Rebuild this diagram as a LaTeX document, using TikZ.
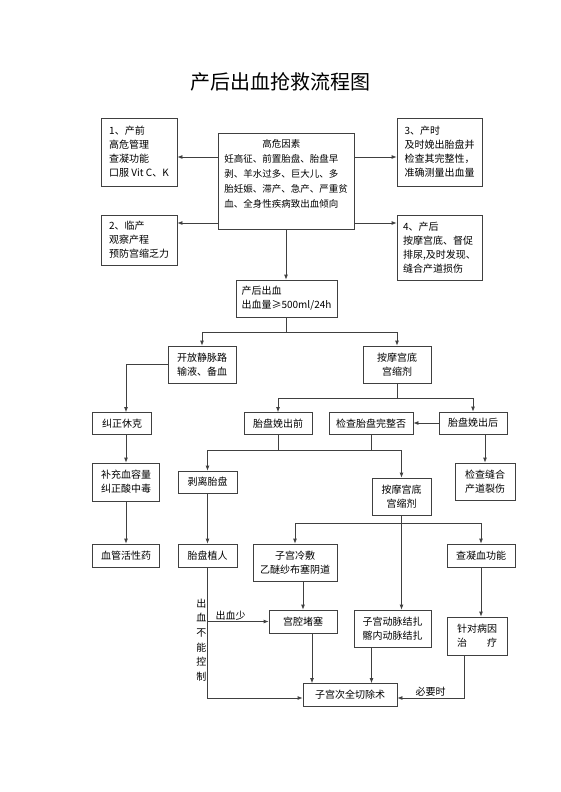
\documentclass[tikz,border=0pt]{standalone}
\usepackage{fontspec}
\setmainfont{Noto Sans CJK SC}
\usepackage{tikz}
\usetikzlibrary{
    positioning,
    calc,
    arrows.meta
}
\tikzset{
  basic/.style = {
      draw=black!75,
      line width=0.8pt,
      rectangle,
      inner sep=2pt,
      font=\fontsize{10}{14}\selectfont
  },
  box/.style = {
      basic,
      align=center
  },
  lbox/.style = {
      basic,
      align=left
  },
  title/.style = {
      font=\fontsize{20}{24}\selectfont
  },
  note/.style = {
      font=\fontsize{10}{13}\selectfont,
      inner sep=1pt
  },
  line/.style = {
      draw=black!75,
      line width=0.8pt
  },
  edge/.style = {
      line,
      -{Latex[length=5pt,width=4pt]}
  }
}
\begin{document}
\begin{tikzpicture}[x=1pt,y=-1pt]
    \useasboundingbox (0,0) rectangle (560,792);
    \node[title] (ttl) at (280,82) {产后出血抢救流程图};
    % Prevention
    \node[lbox, minimum width=76pt, minimum height=68pt] (pre) at (139,152) {1、产前\\高危管理\\查凝功能\\口服 Vit C、K};
    \node[lbox, font=\fontsize{9.5}{15}\selectfont, minimum width=136pt, minimum height=96pt] (risk) at (286,181) {\makebox[114pt]{高危因素}\\妊高征、前置胎盘、胎盘早\\剥、羊水过多、巨大儿、多\\胎妊娠、滞产、急产、严重贫\\血、全身性疾病致出血倾向\\\mbox{}};
    \node[lbox, minimum width=85pt, minimum height=68pt] (intra) at (439.5,152) {3、产时\\及时娩出胎盘并\\检查其完整性，\\准确测量出血量};
    \node[lbox, minimum width=76pt, minimum height=50pt] (labor) at (139,240) {2、临产\\观察产程\\预防宫缩乏力};
    \node[lbox, minimum width=85pt, minimum height=65pt] (post) at (439.5,247.5) {4、产后\\按摩宫底、督促\\排尿,及时发现、\\缝合产道损伤};
    \node[lbox, minimum width=101pt, minimum height=37pt] (pph) at (286.5,298.5) {产后出血\\出血量≥500ml/24h};
    % Treatment
    \node[box, minimum width=68pt, minimum height=37pt] (iv) at (202,364.5) {开放静脉路\\输液、备血};
    \node[box, minimum width=68pt, minimum height=37pt] (mass1) at (397,364.5) {按摩宫底\\宫缩剂};
    \node[box, minimum width=59pt, minimum height=22pt] (shock) at (122,423.5) {纠正休克};
    \node[box, minimum width=68pt, minimum height=22pt] (before) at (278,423.5) {胎盘娩出前};
    \node[box, minimum width=84pt, minimum height=22pt] (check) at (371,423.5) {检查胎盘完整否};
    \node[box, minimum width=68pt, minimum height=22pt] (after) at (473,423) {胎盘娩出后};
    \node[box, minimum width=67pt, minimum height=38pt] (blood) at (126,482) {补充血容量\\纠正酸中毒};
    \node[box, minimum width=59pt, minimum height=22pt] (peel) at (207.5,482) {剥离胎盘};
    \node[box, minimum width=59pt, minimum height=37pt] (mass2) at (401.5,496.5) {按摩宫底\\宫缩剂};
    \node[box, minimum width=60pt, minimum height=37pt] (suture) at (485,481.5) {检查缝合\\产道裂伤};
    \node[box, minimum width=67pt, minimum height=23pt] (vaso) at (126,555.5) {血管活性药};
    \node[box, minimum width=59pt, minimum height=23pt] (plant) at (207.5,555.5) {胎盘植人};
    \node[box, minimum width=84pt, minimum height=37pt] (cold) at (295,562.5) {子宫冷敷\\乙醚纱布塞阴道};
    \node[box, minimum width=68pt, minimum height=23pt] (coag) at (481,555.5) {查凝血功能};
    \node[box, minimum width=68pt, minimum height=23pt] (pack) at (303,621.5) {宫腔堵塞};
    \node[box, minimum width=77pt, minimum height=37pt] (artery) at (392.5,628.5) {子宫动脉结扎\\髂内动脉结扎};
    \node[box, minimum width=60pt, minimum height=38pt] (cause) at (477,636) {针对病因\\治\hspace{2em}疗};
    \node[box, minimum width=94pt, minimum height=23pt] (hyst) at (350,695) {子宫次全切除术};
    \node[note, left, align=center, font=\fontsize{10}{14.6}\selectfont] (ctrl) at (plant.south |- 0,640) {出\\血\\不\\能\\控\\制};
    % Edges
    \draw[edge] ([yshift=24pt]risk.west) -- ([yshift=24pt]risk.west -| pre.east);
    \draw[edge] ([yshift=-42pt]risk.west) -- ([yshift=-42pt]risk.west -| labor.east);
    \draw[edge] ([yshift=24pt]risk.east) -- ([yshift=24pt]risk.east -| intra.west);
    \draw[edge] ([yshift=-42pt]risk.east) -- ([yshift=-42pt]risk.east -| post.west);
    \draw[edge] (risk.south) -- (risk.south |- pph.north);
    \draw[edge] (pph.south) -- ++(0,15) -| (iv.north);
    \draw[edge] (pph.south) -- ++(0,15) -| (mass1.north);
    \draw[edge] (iv.west) -| (shock.north -| blood.north);
    \draw[edge] (shock.south -| blood.north) -- (blood.north);
    \draw[edge] (blood) -- (vaso);
    \draw[edge] (mass1.south) -- ++(0,15) -| (before.north);
    \draw[edge] (mass1.south) -- ++(0,15) -| (after.north);
    \draw[edge] (after.west) -- (after.west -| check.east);
    \draw[edge] (after.south -| suture.north) -- (suture.north);
    \draw[edge] (before.south) -- ++(0,15) -| (peel.north);
    \draw[edge] (before.south) -- ++(0,15) -| (mass2.north);
    \draw[line] (check.south) -- ++(0,15);
    \draw[edge] (peel) -- (plant);
    \draw[edge] (mass2.south) -- ++(0,8) -| (cold.north);
    \draw[edge] (mass2.south) -- ++(0,8) -| (coag.north);
    \draw[edge] (mass2.south) -- (mass2.south |- artery.north);
    \draw[edge] (cold.south -| pack.north) -- (pack.north);
    \draw[edge] (coag.south) -- (coag.south |- cause.north);
    \draw[edge] (plant.south) |- ([yshift=-3pt]hyst.west);
    \draw[edge] (plant.south |- pack.west) -- (pack.west) node[note, pos=0.38, above] {出血少};
    \draw[edge] ([xshift=9pt]pack.south) -- ([xshift=9pt]pack.south |- hyst.north);
    \draw[edge] ([xshift=-21pt]artery.south) -- ([xshift=-21pt]artery.south |- hyst.north);
    \draw[edge] ([xshift=-13pt]cause.south) |- ([yshift=-3pt]hyst.east) node[note, pos=0.75, above] {必要时};
\end{tikzpicture}
\end{document}
